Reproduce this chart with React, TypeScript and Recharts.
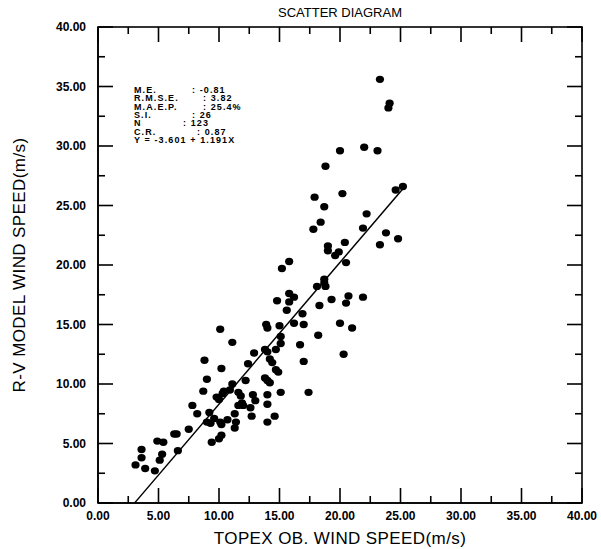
import React from "react";
import { ScatterChart, Scatter, XAxis, YAxis } from "recharts";

const topexSpeed = [
  3.1, 3.6, 3.6, 3.9, 4.7, 4.9, 5.4, 5.3, 5.1, 6.6, 6.5, 7.5, 7.8, 8.2, 9.2, 9.6, 9.3, 9.0, 10.1, 9.4,
  10.0, 10.2, 10.2, 10.7, 11.3, 11.4, 11.3, 8.7, 9.8, 10.0, 10.4, 10.3, 10.9, 11.6, 11.8, 11.9, 12.0, 12.6, 12.7, 12.8,
  9.0, 8.8, 10.2, 11.1, 10.1, 11.1, 12.4, 12.9, 13.8, 14.0, 14.7, 14.2, 14.4, 14.7, 14.9, 13.8, 14.0, 14.2, 14.0, 15.1,
  14.0, 14.6, 14.0, 17.4, 17.0, 15.1, 15.1, 16.7, 13.9, 14.0, 15.0, 16.2, 17.0, 18.2, 20.0, 21.0, 20.3, 14.8, 15.8, 15.6,
  16.9, 15.8, 16.2, 18.3, 19.3, 20.7, 20.5, 21.9, 18.1, 18.8, 18.7, 18.7, 15.8, 15.2, 20.5, 19.6, 19.9, 19.0, 19.0, 20.4,
  17.8, 18.4, 18.7, 17.9, 20.2, 22.2, 21.9, 23.8, 23.3, 24.8, 24.6, 25.2, 18.8, 20.0, 22.0, 23.1, 24.1, 24.0, 23.3, 11.6,
  12.2, 13.0, 6.3,
];
const modelSpeed = [
  3.2, 3.8, 4.5, 2.9, 2.7, 5.2, 5.1, 4.1, 3.6, 4.4, 5.8, 6.2, 8.2, 7.5, 7.6, 7.1, 6.7, 6.8, 6.8, 5.1,
  5.4, 5.7, 6.6, 7.0, 7.5, 6.8, 6.3, 9.4, 8.9, 8.7, 9.4, 9.2, 9.5, 9.3, 9.0, 8.4, 8.2, 8.0, 7.3, 9.1,
  10.4, 12.0, 11.3, 10.0, 14.6, 13.5, 11.7, 12.6, 12.9, 12.7, 12.9, 12.1, 11.8, 11.2, 11.0, 10.5, 10.3, 10.1, 9.1, 9.3,
  8.3, 7.3, 6.8, 9.3, 11.9, 14.0, 13.4, 13.3, 15.0, 14.7, 14.9, 15.1, 15.0, 14.1, 15.1, 14.7, 12.5, 17.0, 16.9, 16.2,
  15.9, 17.6, 17.3, 16.6, 17.1, 17.4, 16.8, 17.3, 18.2, 18.2, 18.8, 18.5, 20.3, 19.7, 20.2, 20.8, 21.1, 21.2, 21.6, 21.9,
  23.0, 23.6, 24.9, 25.7, 26.0, 24.3, 23.1, 22.7, 21.7, 22.2, 26.3, 26.6, 28.3, 29.6, 29.9, 29.6, 33.6, 33.2, 35.6, 8.2,
  10.3, 8.6, 5.8,
];

// Y = -3.601 + 1.191X
const fitIntercept = -3.601;
const fitSlope = 1.191;
const fitRangeX = [3.05, 25.2];

const axisMin = 0;
const axisMax = 40;
const axisTicks = [0, 2.5, 5, 7.5, 10, 12.5, 15, 17.5, 20, 22.5, 25, 27.5, 30, 32.5, 35, 37.5, 40];

const statLines = [
  { label: "M.E.", value: ": -0.81", colonX: 192 },
  { label: "R.M.S.E.", value: ": 3.82", colonX: 203 },
  { label: "M.A.E.P.", value: ": 25.4%", colonX: 203 },
  { label: "S.I.", value: ": 26", colonX: 192 },
  { label: "N", value: ": 123", colonX: 183 },
  { label: "C.R.", value: ": 0.87", colonX: 197 },
];

const points = topexSpeed.map((x, i) => ({ x, y: modelSpeed[i] }));
const fitLine = fitRangeX.map((x) => ({ x, y: fitIntercept + fitSlope * x }));

// chart layout: the plot box inside the 601x549 picture
const W = 601;
const H = 549;
const PLOT = { left: 98, top: 27, width: 484, height: 476 };

const FONT = "'Liberation Sans', Arial, sans-serif";
const isMajor = (v: number) => Math.abs(v % 5) < 1e-6;
const fmtTick = (v: number) => (isMajor(v) ? v.toFixed(2) : "");

// the box frame and its inward tick marks, laid on the same plot box as the chart
const px = (v: number) => PLOT.left + ((v - axisMin) / (axisMax - axisMin)) * PLOT.width;
const py = (v: number) => PLOT.top + PLOT.height - ((v - axisMin) / (axisMax - axisMin)) * PLOT.height;

function Frame() {
  const right = PLOT.left + PLOT.width;
  const bottom = PLOT.top + PLOT.height;
  return (
    <svg width={W} height={H} style={{ position: "absolute", left: 0, top: 0, pointerEvents: "none" }}>
      <rect x={PLOT.left} y={PLOT.top} width={PLOT.width} height={PLOT.height} fill="none" stroke="#000" strokeWidth={1.6} />
      {axisTicks.map((v) => {
        const len = isMajor(v) ? 15 : 7;
        const x = px(v);
        const y = py(v);
        return (
          <g key={v} stroke="#000" strokeWidth={1.6}>
            <line x1={x} y1={bottom} x2={x} y2={bottom - len} />
            <line x1={x} y1={PLOT.top} x2={x} y2={PLOT.top + len} />
            <line x1={PLOT.left} y1={y} x2={PLOT.left + len} y2={y} />
            <line x1={right} y1={y} x2={right - len} y2={y} />
          </g>
        );
      })}
    </svg>
  );
}

const Dot = (props: any) => <ellipse cx={props.cx} cy={props.cy} rx={4.1} ry={3.7} fill="#000" />;
const NoDot = () => <g />;

const tickStyle = { fontSize: 12, fontWeight: "bold", fill: "#000", fontFamily: FONT };
const axisLine = { stroke: "#000", strokeWidth: 1.6 };
const statStyle: React.CSSProperties = {
  position: "absolute",
  fontSize: 9,
  fontWeight: "bold",
  letterSpacing: 1.1,
  lineHeight: "8px",
  whiteSpace: "nowrap",
};

export default function App() {
  return (
    <div style={{ position: "absolute", left: 0, top: 0, width: W, height: H, background: "#fff", fontFamily: FONT }}>
      <ScatterChart
        width={W}
        height={H}
        margin={{ top: PLOT.top, right: W - PLOT.left - PLOT.width, bottom: 0, left: 0 }}
      >
        <XAxis
          type="number"
          dataKey="x"
          domain={[axisMin, axisMax]}
          ticks={axisTicks}
          interval={0}
          height={H - PLOT.top - PLOT.height}
          tickLine={false}
          tickSize={6}
          tickMargin={2}
          tickFormatter={fmtTick}
          tick={tickStyle}
          axisLine={axisLine}
        />
        <YAxis
          type="number"
          dataKey="y"
          domain={[axisMin, axisMax]}
          ticks={axisTicks}
          interval={0}
          width={PLOT.left}
          tickLine={false}
          tickSize={6}
          tickMargin={6}
          tickFormatter={fmtTick}
          tick={tickStyle}
          axisLine={axisLine}
        />
        <Scatter data={points} shape={Dot} isAnimationActive={false} />
        <Scatter data={fitLine} line={{ stroke: "#000", strokeWidth: 1.5 }} shape={NoDot} isAnimationActive={false} />
      </ScatterChart>

      <Frame />

      <div style={{ position: "absolute", left: 340, top: 5, transform: "translateX(-50%)", fontSize: 13, whiteSpace: "nowrap" }}>
        SCATTER DIAGRAM
      </div>
      <div style={{ position: "absolute", left: 340, top: 529, transform: "translateX(-50%)", fontSize: 17, letterSpacing: 0.4, whiteSpace: "nowrap" }}>
        TOPEX OB. WIND SPEED(m/s)
      </div>
      <div
        style={{
          position: "absolute",
          left: 20,
          top: 265,
          transform: "translate(-50%, -50%) rotate(-90deg)",
          fontSize: 17,
          letterSpacing: 0.4,
          whiteSpace: "nowrap",
        }}
      >
        R-V MODEL WIND SPEED(m/s)
      </div>

      {statLines.map((s, i) => (
        <React.Fragment key={s.label}>
          <div style={{ ...statStyle, left: 134, top: 86 + i * 8.35 }}>{s.label}</div>
          <div style={{ ...statStyle, left: s.colonX, top: 86 + i * 8.35 }}>{s.value}</div>
        </React.Fragment>
      ))}
      <div style={{ ...statStyle, left: 134, top: 86 + 6 * 8.35 }}>Y = -3.601 + 1.191X</div>
    </div>
  );
}
